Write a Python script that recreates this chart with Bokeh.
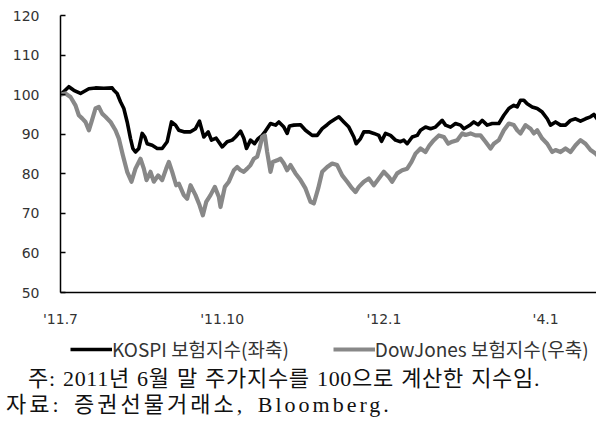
from bokeh.plotting import figure
from bokeh.models import Range1d, FixedTicker, Legend, LegendItem, Div
from bokeh.layouts import column
from bokeh.embed import file_html
from bokeh.resources import INLINE

# x: months since 2011-07-01
kospi_x = [0.000, 0.155, 0.247, 0.371, 0.526, 0.649, 0.804, 0.959, 0.990, 1.051, 1.113, 1.175, 1.237,
           1.299, 1.342, 1.391, 1.453, 1.515, 1.565, 1.608, 1.701, 1.794, 1.886, 1.979, 2.059, 2.134,
           2.195, 2.288, 2.412, 2.505, 2.579, 2.659, 2.740, 2.801, 2.888, 3.000, 3.092, 3.185, 3.247,
           3.340, 3.401, 3.451, 3.525, 3.599, 3.667, 3.742, 3.803, 3.896, 3.989, 4.051, 4.144, 4.205,
           4.249, 4.329, 4.453, 4.545, 4.669, 4.762, 4.855, 4.948, 5.009, 5.102, 5.164, 5.256, 5.349,
           5.442, 5.485, 5.566, 5.627, 5.720, 5.813, 5.906, 5.955, 6.030, 6.122, 6.215, 6.308, 6.370,
           6.432, 6.525, 6.617, 6.679, 6.772, 6.865, 6.957, 7.081, 7.143, 7.236, 7.328, 7.421, 7.483,
           7.607, 7.668, 7.749, 7.823, 7.916, 8.009, 8.132, 8.225, 8.317, 8.410, 8.473, 8.534, 8.596,
           8.658, 8.751, 8.844, 8.937, 9.030, 9.091, 9.184, 9.276, 9.369, 9.462, 9.555, 9.647, 9.740,
           9.833, 9.895, 9.957, 10.050, 10.143, 10.204, 10.241]
kospi_y = [100.0, 102.0, 101.1, 100.3, 101.5, 101.7, 101.6, 101.7, 101.1, 100.3, 98.2, 96.5, 93.1,
           88.9, 86.4, 85.5, 86.4, 90.2, 89.3, 87.6, 87.2, 86.4, 86.4, 88.1, 93.1, 92.3,
           91.0, 90.6, 90.6, 91.4, 93.3, 89.3, 90.6, 88.5, 89.0, 86.8, 88.1, 88.5, 89.3,
           90.8, 89.0, 86.4, 88.5, 87.6, 88.9, 89.7, 90.8, 92.7, 92.3, 93.1, 91.8, 90.2,
           92.1, 92.3, 92.4, 91.0, 89.7, 89.7, 91.4, 92.4, 93.1, 93.9, 94.4, 93.1, 91.8,
           89.3, 87.6, 88.9, 90.6, 90.6, 90.2, 89.7, 88.2, 90.2, 89.7, 88.5, 88.1, 88.5,
           87.6, 89.3, 89.7, 91.0, 91.8, 91.4, 91.8, 93.5, 92.3, 91.8, 92.7, 92.3, 91.4,
           92.4, 93.1, 92.4, 93.5, 92.3, 92.7, 92.7, 94.8, 96.5, 97.3, 96.9, 98.6, 98.6,
           97.7, 96.9, 96.5, 95.6, 93.9, 92.3, 93.1, 92.3, 92.3, 93.5, 93.9, 93.3, 93.9,
           94.4, 95.0, 93.9, 94.4, 93.5, 94.4, 93.1]

dow_x = [0.000, 0.093, 0.186, 0.278, 0.340, 0.402, 0.464, 0.526, 0.575, 0.649, 0.711, 0.773, 0.835,
         0.928, 1.020, 1.082, 1.157, 1.237, 1.317, 1.391, 1.484, 1.546, 1.596, 1.670, 1.731, 1.812,
         1.886, 1.961, 2.010, 2.072, 2.146, 2.195, 2.288, 2.350, 2.412, 2.505, 2.579, 2.641, 2.703,
         2.783, 2.863, 2.937, 2.968, 3.049, 3.123, 3.216, 3.278, 3.340, 3.401, 3.463, 3.525, 3.587,
         3.649, 3.692, 3.742, 3.791, 3.834, 3.896, 3.939, 4.020, 4.082, 4.144, 4.205, 4.267, 4.360,
         4.453, 4.545, 4.638, 4.700, 4.781, 4.855, 4.948, 5.040, 5.133, 5.226, 5.319, 5.411, 5.473,
         5.535, 5.627, 5.720, 5.813, 5.906, 5.998, 6.091, 6.153, 6.246, 6.339, 6.432, 6.512, 6.586,
         6.679, 6.772, 6.846, 6.926, 7.019, 7.112, 7.192, 7.267, 7.360, 7.453, 7.514, 7.607, 7.699,
         7.792, 7.885, 7.978, 8.039, 8.132, 8.225, 8.317, 8.410, 8.473, 8.534, 8.627, 8.720, 8.781,
         8.844, 8.937, 9.030, 9.122, 9.184, 9.276, 9.369, 9.462, 9.555, 9.647, 9.740, 9.833, 9.926,
         10.019, 10.111, 10.173, 10.241]
dow_y = [100.0, 100.3, 99.4, 97.3, 94.8, 94.0, 93.1, 91.0, 93.1, 96.5, 96.9, 95.2, 94.4,
         93.1, 91.0, 88.9, 84.7, 80.5, 78.0, 81.3, 83.8, 81.3, 78.4, 80.5, 78.0, 79.6,
         78.4, 81.3, 83.0, 80.5, 77.1, 77.5, 74.6, 73.7, 77.1, 74.6, 72.1, 69.5, 72.9,
         74.6, 76.7, 74.2, 71.6, 76.7, 78.0, 80.9, 81.7, 80.9, 80.5, 81.3, 82.2, 83.8,
         84.3, 86.4, 89.3, 89.7, 85.5, 80.5, 83.0, 83.4, 83.8, 82.6, 80.9, 82.2, 80.1,
         78.4, 76.3, 72.9, 72.5, 76.3, 80.5, 81.7, 82.6, 82.2, 79.6, 78.0, 76.3, 75.4,
         76.7, 78.0, 78.8, 77.1, 78.8, 80.5, 79.2, 78.0, 80.1, 80.9, 81.3, 83.0, 85.1,
         86.4, 85.5, 87.2, 88.5, 89.7, 89.3, 87.6, 88.1, 88.5, 90.2, 89.8, 90.2, 89.7,
         89.7, 88.1, 86.4, 87.6, 88.5, 91.0, 92.7, 92.3, 91.0, 90.2, 92.3, 91.4, 90.2,
         91.0, 88.9, 87.6, 85.5, 86.0, 85.5, 86.4, 85.5, 87.2, 88.5, 87.6, 86.0, 85.1,
         83.8, 83.0, 81.3, 78.8]

tick_pos = [0, 3, 6, 9]
tick_labels = ["'11.7", "'11.10", "'12.1", "'4.1"]
y_ticks = [50, 60, 70, 80, 90, 100, 110, 120]

series_names = ["KOSPI 보험지수(좌축)", "DowJones 보험지수(우축)"]
note_text = "주: 2011년 6월 말 주가지수를 100으로 계산한 지수임."
source_text = "자료: 증권선물거래소, Bloomberg."

KOSPI_COLOR = "black"
DOW_COLOR = "#888888"
W = 596
LEFT = 60

# ---- main chart ----
p = figure(width=W, height=330, output_backend="svg", toolbar_location=None,
           x_range=Range1d(0, 9.944), y_range=Range1d(50, 120),
           min_border_left=LEFT, min_border_right=0, min_border_top=15, min_border_bottom=38)
p.outline_line_color = None
p.grid.visible = False

ax_font = "DejaVu Sans"
p.xaxis.ticker = FixedTicker(ticks=tick_pos)
p.xaxis.major_label_overrides = {t: l for t, l in zip(tick_pos, tick_labels)}
p.xaxis.minor_tick_line_color = None
p.xaxis.major_tick_out = 0
p.xaxis.major_tick_in = 0
p.xaxis.major_label_standoff = 18
p.yaxis.ticker = FixedTicker(ticks=y_ticks)
p.yaxis.major_tick_in = 5
p.yaxis.major_tick_out = 0
p.yaxis.minor_tick_line_color = None
p.yaxis.major_label_standoff = 21
for ax in (p.xaxis, p.yaxis):
    ax.axis_line_color = "black"
    ax.axis_line_width = 1.5
    ax.major_tick_line_color = "black"
    ax.major_tick_line_width = 1.5
    ax.major_label_text_font = ax_font
    ax.major_label_text_font_size = "14px"
    ax.major_label_text_color = "#333333"

p.line(kospi_x, kospi_y, line_color=KOSPI_COLOR, line_width=3.6, line_join="round")
p.line(dow_x, dow_y, line_color=DOW_COLOR, line_width=4.2, line_join="round")

# ---- legend strip ----
q = figure(width=W, height=36, output_backend="svg", toolbar_location=None,
           x_range=Range1d(0, 1), y_range=Range1d(0, 1),
           min_border_left=LEFT, min_border_right=0, min_border_top=0, min_border_bottom=0,
           x_axis_type=None, y_axis_type=None)
q.outline_line_color = None
q.grid.visible = False
nan = float("nan")
k1 = q.line([nan], [nan], line_color=KOSPI_COLOR, line_width=3.6)
k2 = q.line([nan], [nan], line_color=DOW_COLOR, line_width=4.2)

legend = Legend(items=[LegendItem(label=series_names[0], renderers=[k1]),
                       LegendItem(label=series_names[1], renderers=[k2])],
                orientation="horizontal", location=(10, 4),
                glyph_width=42, glyph_height=22, label_height=22, label_standoff=0,
                spacing=44, padding=0, margin=0,
                border_line_alpha=0, background_fill_alpha=0,
                label_text_font="Noto Sans CJK KR", label_text_font_size="19px",
                label_text_color="#333333", label_text_baseline="middle")
q.add_layout(legend)

# ---- notes ----
notes_html = (
    '<div style="font-family:\'Liberation Serif\',\'Noto Sans CJK KR\',serif;font-size:22px;'
    'line-height:26px;color:#111111;white-space:nowrap;">'
    f'<div style="padding-left:28px;letter-spacing:0.7px;word-spacing:1px;">{note_text}</div>'
    f'<div style="padding-left:6px;letter-spacing:3px;word-spacing:4px;">{source_text}</div>'
    '</div>'
)
notes = Div(text=notes_html, width=W, height=56, margin=0)

layout = column(p, q, notes, spacing=0)
open("out.html", "w").write(file_html(layout, INLINE))
